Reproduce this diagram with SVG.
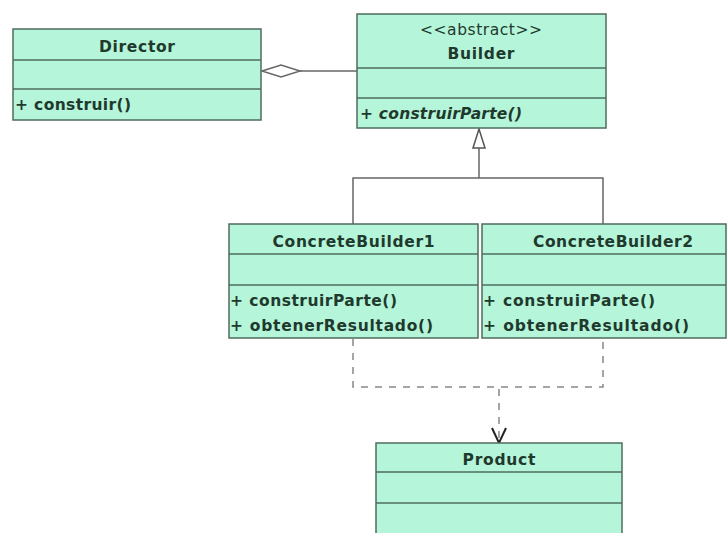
<svg xmlns="http://www.w3.org/2000/svg" width="728" height="533" viewBox="0 0 728 533">
<style>
.box{fill:#b5f5da;stroke:#4f6b5f;stroke-width:1.5}
.div{stroke:#4f6b5f;stroke-width:1.5}
.t{font-family:"DejaVu Sans","Liberation Sans",Arial,sans-serif;font-weight:bold;font-size:15.5px;fill:#1f3a2d}
.c{text-anchor:middle}
.it{font-style:italic}
.ln{fill:none;stroke:#666;stroke-width:1.5}
.dash{fill:none;stroke:#888;stroke-width:1.5;stroke-dasharray:7,7}
</style>
<rect width="728" height="533" fill="#ffffff"/>
<g id="connectors">
<line class="ln" x1="300" y1="71" x2="357" y2="71"/>
<polygon points="262,71 281,65 300,71 281,77" fill="#ffffff" stroke="#666" stroke-width="1.5"/>
<line class="ln" x1="479" y1="148" x2="479" y2="178"/>
<polyline class="ln" points="353,224 353,178 603,178 603,224"/>
<polygon points="479,129 473,148 485,148" fill="#ffffff" stroke="#555" stroke-width="1.5"/>
<polyline class="dash" points="353,339 353,387 603,387 603,339"/>
<line class="dash" x1="499" y1="389" x2="499" y2="440"/>
<polyline points="492,428 499,443 506,428" fill="none" stroke="#222" stroke-width="2"/>
</g>
<g id="director">
<rect class="box" x="13" y="29" width="248" height="91"/>
<line class="div" x1="13" y1="60" x2="261" y2="60"/>
<line class="div" x1="13" y1="89" x2="261" y2="89"/>
<text class="t c" x="137" y="52" textLength="76" lengthAdjust="spacing">Director</text>
<text class="t" x="15" y="110" textLength="116" lengthAdjust="spacing">+ construir()</text>
</g>
<g id="builder">
<rect class="box" x="357" y="14" width="249" height="114"/>
<line class="div" x1="357" y1="68" x2="606" y2="68"/>
<line class="div" x1="357" y1="98" x2="606" y2="98"/>
<text class="t c" x="481" y="35" textLength="122" lengthAdjust="spacing" style="font-weight:normal">&lt;&lt;abstract&gt;&gt;</text>
<text class="t c" x="481" y="59" textLength="67" lengthAdjust="spacing">Builder</text>
<text class="t" x="360" y="119" textLength="162" lengthAdjust="spacing">+ <tspan class="it">construirParte()</tspan></text>
</g>
<g id="concretebuilder1">
<rect class="box" x="229" y="224" width="249" height="114"/>
<line class="div" x1="229" y1="254" x2="478" y2="254"/>
<line class="div" x1="229" y1="285" x2="478" y2="285"/>
<text class="t c" x="353.5" y="247" textLength="162" lengthAdjust="spacing">ConcreteBuilder1</text>
<text class="t" x="230" y="306" textLength="167" lengthAdjust="spacing">+ construirParte()</text>
<text class="t" x="230" y="331" textLength="203" lengthAdjust="spacing">+ obtenerResultado()</text>
</g>
<g id="concretebuilder2">
<rect class="box" x="482" y="224" width="244" height="114"/>
<line class="div" x1="482" y1="254" x2="726" y2="254"/>
<line class="div" x1="482" y1="285" x2="726" y2="285"/>
<text class="t c" x="613" y="247" textLength="160" lengthAdjust="spacing">ConcreteBuilder2</text>
<text class="t" x="483" y="306" textLength="172" lengthAdjust="spacing">+ construirParte()</text>
<text class="t" x="483" y="331" textLength="206" lengthAdjust="spacing">+ obtenerResultado()</text>
</g>
<g id="product">
<rect class="box" x="376" y="443" width="246" height="100"/>
<line class="div" x1="376" y1="472" x2="622" y2="472"/>
<line class="div" x1="376" y1="503" x2="622" y2="503"/>
<text class="t c" x="499" y="465" textLength="73" lengthAdjust="spacing">Product</text>
</g>
</svg>
